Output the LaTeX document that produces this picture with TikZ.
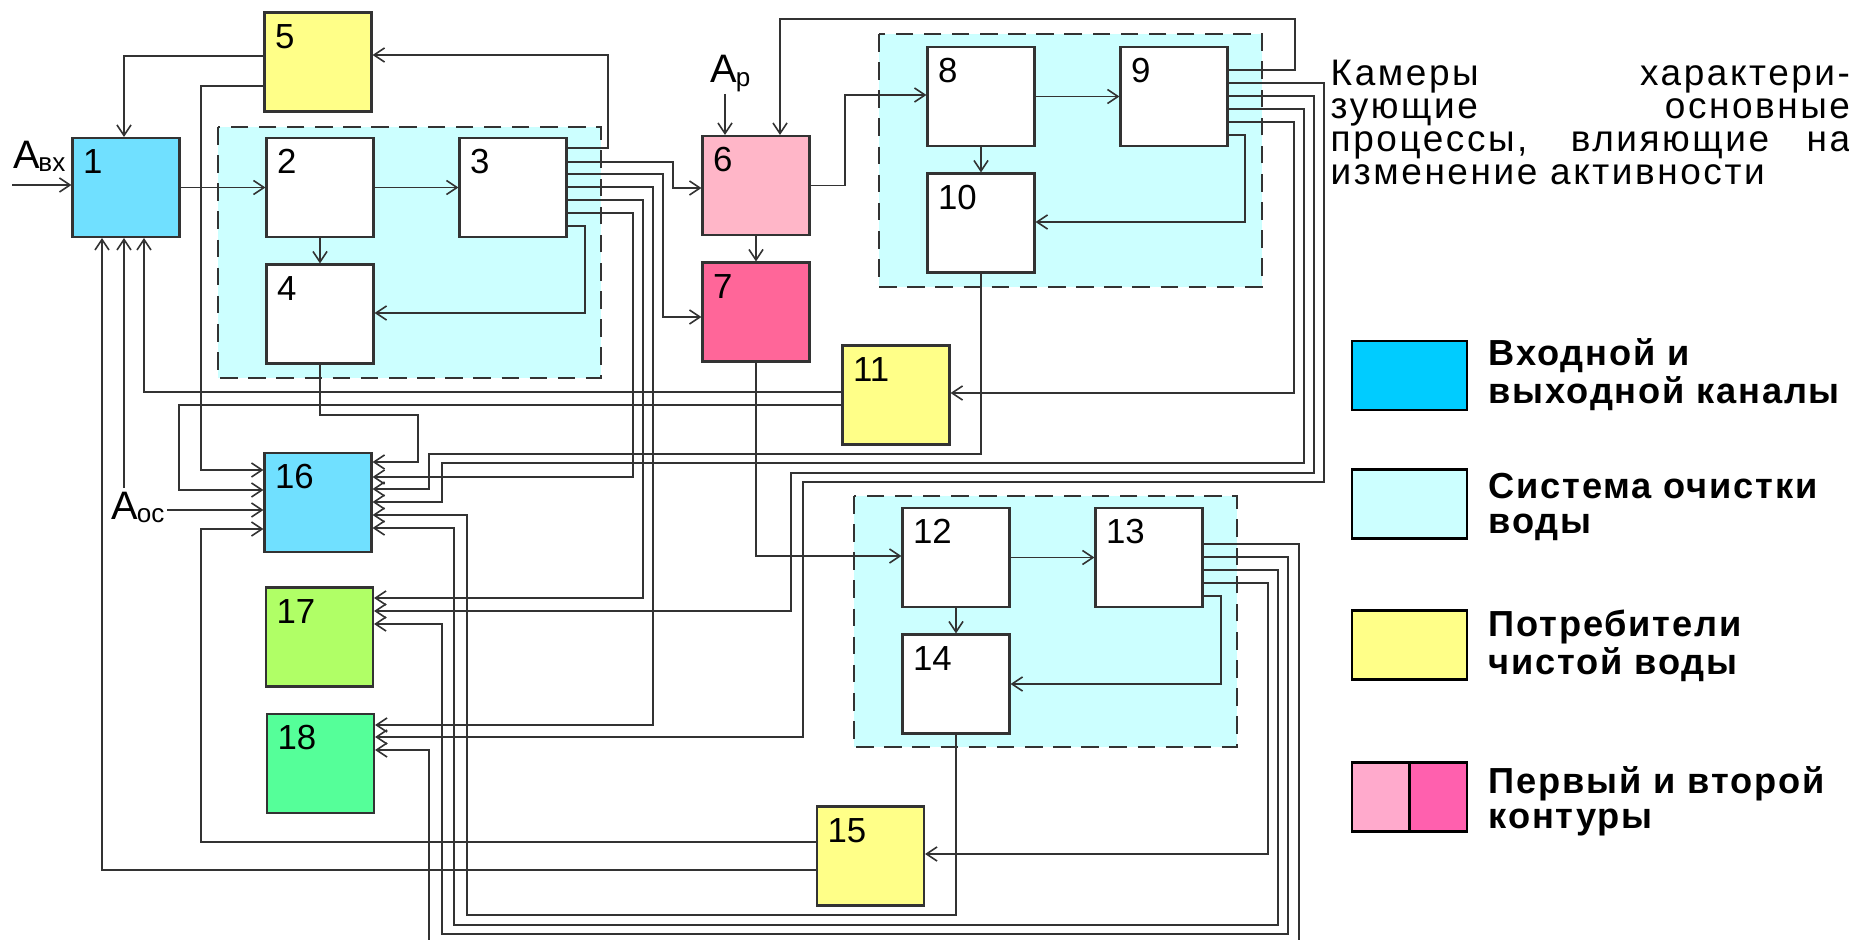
\documentclass[tikz,border=0pt]{standalone}
\usepackage{fontspec}
\setmainfont{Liberation Sans}
\newfontfamily\widefont[LetterSpace=7]{Liberation Sans}
\newfontfamily\legfont[LetterSpace=5]{Liberation Sans}
\usetikzlibrary{arrows.meta}

\definecolor{chanblue}{HTML}{70E0FF}
\definecolor{cleancyan}{HTML}{CCFFFF}
\definecolor{userylw}{HTML}{FFFF88}
\definecolor{loopone}{HTML}{FFB6C8}
\definecolor{looptwo}{HTML}{FF6699}
\definecolor{lawngreen}{HTML}{B0FF66}
\definecolor{mintgreen}{HTML}{55FF99}
\definecolor{legblue}{HTML}{00CCFF}
\definecolor{legpink}{HTML}{FFAACC}
\definecolor{leghot}{HTML}{FF60AE}
\definecolor{wire}{HTML}{333333}

\begin{document}
\begin{tikzpicture}[x=0.01cm, y=-0.01cm, font=\fontsize{9.9}{11}\selectfont,
  >={Straight Barb[length=3pt,width=4pt]},
  cam/.style={draw=wire,line width=0.6pt,fill=white,minimum width=1.07cm,minimum height=0.99cm,inner sep=0pt},
  num/.style={anchor=north west,inner sep=0pt,xshift=0.11cm,yshift=-0.12cm},
  region/.style={draw=wire,fill=cleancyan,line width=0.5pt,dash pattern=on 5pt off 3pt},
  conn/.style={draw=wire,line width=0.45pt,->},
  inlabel/.style={anchor=base west,inner sep=0pt,font=\fontsize{11.3}{12}\selectfont},
  legbox/.style={draw=black,line width=0.6pt,minimum width=1.15cm,minimum height=0.69cm,inner sep=0pt},
  legtext/.style={anchor=base west,inner sep=0pt,align=left,font=\legfont\bfseries\fontsize{10.3}{9.7}\selectfont}]
\useasboundingbox (0,0) rectangle (1849,940);
% cleaning systems
\draw[region] (218,127) rectangle (601,378);
\draw[region] (879,34) rectangle (1262,287);
\draw[region] (854,496) rectangle (1237,747);
% chambers
\node[cam,fill=chanblue,label={[num]north west:1}] (b1) at (126,187.5) {};
\node[cam,label={[num]north west:2}] (b2) at (320,187.5) {};
\node[cam,label={[num]north west:3}] (b3) at (513,187.5) {};
\node[cam,label={[num]north west:4}] (b4) at (320,314) {};
\node[cam,fill=userylw,label={[num]north west:5}] (b5) at (318,62) {};
\node[cam,fill=loopone,label={[num]north west:6}] (b6) at (756,185.5) {};
\node[cam,fill=looptwo,label={[num]north west:7}] (b7) at (756,312) {};
\node[cam,label={[num]north west:8}] (b8) at (981,96.5) {};
\node[cam,label={[num]north west:9}] (b9) at (1174,96.5) {};
\node[cam,label={[num]north west:10}] (b10) at (981,223) {};
\node[cam,fill=userylw,label={[num]north west:11}] (b11) at (896,395) {};
\node[cam,label={[num]north west:12}] (b12) at (956,557.5) {};
\node[cam,label={[num]north west:13}] (b13) at (1149,557.5) {};
\node[cam,label={[num]north west:14}] (b14) at (956,684) {};
\node[cam,fill=userylw,label={[num]north west:15}] (b15) at (870.5,856) {};
\node[cam,fill=chanblue,label={[num]north west:16}] (b16) at (318,502.5) {};
\node[cam,fill=lawngreen,label={[num]north west:17}] (b17) at (319.5,637) {};
\node[cam,fill=mintgreen,label={[num]north west:18}] (b18) at (320.5,763.5) {};
% inputs
\node[inlabel] (avx) at (13,169) {A\kern-0.5pt\raisebox{-0.7pt}{\fontsize{7.4}{8}\selectfont вх}};
\node[inlabel] (ap) at (710,83) {A\kern-0.4pt\raisebox{-1pt}{\fontsize{7.4}{8}\selectfont р}};
\node[inlabel] (aoc) at (111,519) {A\kern-0.4pt\raisebox{-1pt}{\fontsize{7.4}{8}\selectfont ос}};
\coordinate (avxin) at (12,185);
\coordinate (apin) at (725,94);
\coordinate (aocup) at (124,488);
\coordinate (aocin) at (167,510);
\draw[conn] (avxin) -- (b1.west |- avxin);
\draw[conn] (apin) -- (apin |- b6.north);
\draw[conn] (aocup) -- (b1.south -| aocup);
\draw[conn] (aocin) -- (b16.west |- aocin);
% direct links
\draw[conn] (b1.east) -- (b2.west);
\draw[conn] (b2.east) -- (b3.west);
\draw[conn] (b2.south) -- (b4.north);
\draw[conn] (b6.south) -- (b7.north);
\draw[conn] (b8.east) -- (b9.west);
\draw[conn] (b8.south) -- (b10.north);
\draw[conn] (b12.east) -- (b13.west);
\draw[conn] (b12.south) -- (b14.north);
\draw[conn] (b6.east) -| (845,95) -- (b8.west |- 0,95);
\draw[conn] (b7.south) |- (b12.west |- 0,556);
% outputs of 3
\draw[conn] (b3.east |- 0,148) -| (608,55) -- (b5.east |- 0,55);
\draw[conn] (b3.east |- 0,162) -| (673,188) -- (b6.west |- 0,188);
\draw[conn] (b3.east |- 0,174) -| (663,317) -- (b7.west |- 0,317);
\draw[conn] (b3.east |- 0,187) -| (653,725) -- (b18.east |- 0,725);
\draw[conn] (b3.east |- 0,200) -| (643,598) -- (b17.east |- 0,598);
\draw[conn] (b3.east |- 0,213) -| (633,477) -- (b16.east |- 0,477);
\draw[conn] (b3.east |- 0,226) -| (585,313) -- (b4.east |- 0,313);
% outputs of 9
\draw[conn] (b9.east |- 0,70) -| (1295,19) -| (b6.north -| 780,0);
\draw[conn] (b9.east |- 0,83) -| (1324,482) -| (803,737) -- (b18.east |- 0,737);
\draw[conn] (b9.east |- 0,96) -| (1314,473) -| (791,611) -- (b17.east |- 0,611);
\draw[conn] (b9.east |- 0,109) -| (1304,463) -| (442,502) -- (b16.east |- 0,502);
\draw[conn] (b9.east |- 0,122) -| (1294,393) -- (b11.east |- 0,393);
\draw[conn] (b9.east |- 0,135) -| (1245,222) -- (b10.east |- 0,222);
% outputs of 13
\draw[conn] (b13.east |- 0,544) -| (1299,946) -| (429,750) -- (b18.east |- 0,750);
\draw[conn] (b13.east |- 0,557) -| (1288,934) -| (442,624) -- (b17.east |- 0,624);
\draw[conn] (b13.east |- 0,570) -| (1278,925) -| (454,528) -- (b16.east |- 0,528);
\draw[conn] (b13.east |- 0,583) -| (1268,854) -- (b15.east |- 0,854);
\draw[conn] (b13.east |- 0,596) -| (1221,684) -- (b14.east |- 0,684);
% returns to 1 and 16
\draw[conn] (b4.south) |- (418,415) |- (b16.east |- 0,462);
\draw[conn] (b10.south) |- (429,454) |- (b16.east |- 0,489);
\draw[conn] (b14.south) |- (467,915) |- (b16.east |- 0,515);
\draw[conn] (b5.west |- 0,56) -| (b1.north -| 124,0);
\draw[conn] (b5.west |- 0,86) -| (201,470) -- (b16.west |- 0,470);
\draw[conn] (b11.west |- 0,392) -| (b1.south -| 144,0);
\draw[conn] (b11.west |- 0,405) -| (179,490) -- (b16.west |- 0,490);
\draw[conn] (b15.west |- 0,842) -| (201,529) -- (b16.west |- 0,529);
\draw[conn] (b15.west |- 0,870) -| (b1.south -| 102,0);
% description and legend
\node[anchor=north west,inner sep=0pt,text width=5.19cm,align=justify,
  font=\widefont\fontsize{10.5}{9.4}\selectfont] (desc) at (1330,59)
  {Камеры характери-\linebreak зующие основные\linebreak процессы, влияющие на\linebreak изменение активности};
\node[legbox,fill=legblue] (lg1) at (1409.5,375.5) {};
\node[legbox,fill=cleancyan] (lg2) at (1409.5,504) {};
\node[legbox,fill=userylw] (lg3) at (1409.5,645) {};
\node[legbox,fill=legpink,minimum width=0.575cm] (lg4a) at (1380.5,797) {};
\node[legbox,fill=leghot,minimum width=0.575cm] (lg4b) at (1438.5,797) {};
\node[legtext] (lt1) at (1488,403) {Входной и\\выходной каналы};
\node[legtext] (lt2) at (1488,533) {Система очистки\\воды};
\node[legtext] (lt3) at (1488,674) {Потребители\\чистой воды};
\node[legtext] (lt4) at (1488,828) {Первый и второй\\контуры};
\end{tikzpicture}
\end{document}
